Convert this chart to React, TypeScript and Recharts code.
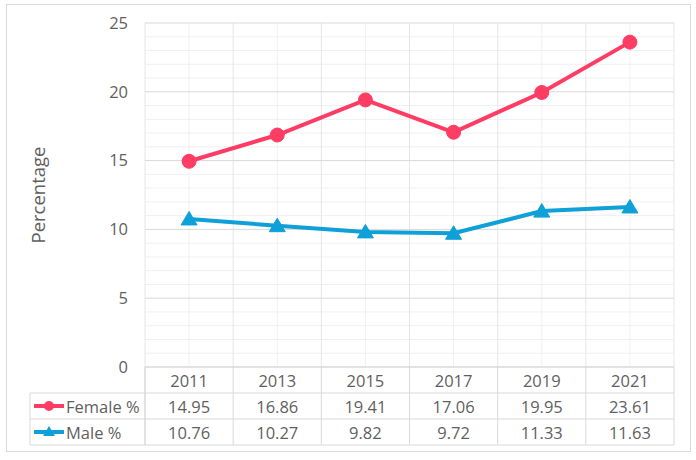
import React from 'react';
import { LineChart, Line, XAxis, YAxis, ReferenceLine } from 'recharts';

const years = [2011, 2013, 2015, 2017, 2019, 2021];
const female = [14.95, 16.86, 19.41, 17.06, 19.95, 23.61];
const male = [10.76, 10.27, 9.82, 9.72, 11.33, 11.63];
const seriesNames = ['Female %', 'Male %'];
const yTicks = [0, 5, 10, 15, 20, 25];
const yMinor = [1, 2, 3, 4, 6, 7, 8, 9, 11, 12, 13, 14, 16, 17, 18, 19, 21, 22, 23, 24];
const colEdges = [2010, 2012, 2014, 2016, 2018, 2020, 2022];
const colMids = [2011, 2013, 2015, 2017, 2019, 2021];
const yLabel = 'Percentage';

const PINK = '#FF3D64';
const BLUE = '#0FA0D8';
const TEXT = '#5f5f5f';
const MAJOR = '#d9d9d9';
const MINOR = '#f0f0f0';
const FONT = '"Open Sans", "Liberation Sans", sans-serif';
const FS = 16.5;

const data = years.map((y, i) => ({ year: y, female: female[i], male: male[i] }));

const W = 696;
const H = 460;
const PLOT_LEFT = 145;
const PLOT_RIGHT = 674;
const PLOT_TOP = 23;
const PLOT_BOTTOM = 367;
const COL_HALF = (PLOT_RIGHT - PLOT_LEFT) / years.length / 2;
const ROW_LINES = [393, 419, 445];
const ROW_TEXT = [380, 406, 432];
const TABLE_LEFT = 30;

const TableTick = (props: any) => {
  const { x, payload } = props;
  const i = years.indexOf(payload.value);
  if (i < 0) return null;
  return (
    <g>
      <text x={x} y={ROW_TEXT[0]} textAnchor="middle" dominantBaseline="central" fill={TEXT} fontSize={FS} fontFamily={FONT}>
        {payload.value}
      </text>
      <text x={x} y={ROW_TEXT[1]} textAnchor="middle" dominantBaseline="central" fill={TEXT} fontSize={FS} fontFamily={FONT}>
        {female[i].toFixed(2)}
      </text>
      <text x={x} y={ROW_TEXT[2]} textAnchor="middle" dominantBaseline="central" fill={TEXT} fontSize={FS} fontFamily={FONT}>
        {male[i].toFixed(2)}
      </text>
      <line x1={x + COL_HALF} x2={x + COL_HALF} y1={PLOT_BOTTOM} y2={ROW_LINES[2]} stroke={MAJOR} strokeWidth={1} />
      {i === 0 && (
        <line x1={x - COL_HALF} x2={x - COL_HALF} y1={PLOT_BOTTOM} y2={ROW_LINES[2]} stroke={MAJOR} strokeWidth={1} />
      )}
    </g>
  );
};

const TriangleDot = (props: any) => {
  const { cx, cy } = props;
  if (cx == null || cy == null) return null;
  return <polygon points={`${cx},${cy - 7.5} ${cx - 8},${cy + 6} ${cx + 8},${cy + 6}`} fill={BLUE} stroke={BLUE} strokeWidth={1} />;
};

const CircleDot = (props: any) => {
  const { cx, cy } = props;
  if (cx == null || cy == null) return null;
  return <circle cx={cx} cy={cy} r={7} fill={PINK} stroke={PINK} strokeWidth={1} />;
};

export default function App() {
  return (
    <div style={{ position: 'fixed', left: 0, top: 0, width: W, height: H, background: '#fff', fontFamily: FONT }}>
      <LineChart
        width={W}
        height={H}
        data={data}
        margin={{ top: PLOT_TOP, right: W - PLOT_RIGHT, left: 85, bottom: 13 }}
      >
        {yMinor.map((v) => (
          <ReferenceLine key={'ym' + v} y={v} stroke={MINOR} strokeWidth={1} />
        ))}
        {colMids.map((v) => (
          <ReferenceLine key={'xm' + v} x={v} stroke={MINOR} strokeWidth={1} />
        ))}
        {colEdges.map((v) => (
          <ReferenceLine key={'xe' + v} x={v} stroke="#e6e6e6" strokeWidth={1} />
        ))}
        {yTicks.map((v) => (
          <ReferenceLine key={'yM' + v} y={v} stroke={MAJOR} strokeWidth={1} />
        ))}
        <XAxis
          dataKey="year"
          type="number"
          domain={[2010, 2022]}
          ticks={years}
          height={80}
          axisLine={{ stroke: MAJOR }}
          tickLine={false}
          tick={<TableTick />}
          interval={0}
        />
        <YAxis
          width={60}
          domain={[0, 25]}
          ticks={yTicks}
          axisLine={false}
          tickLine={false}
          tickSize={0}
          tickMargin={17}
          tick={{ fill: TEXT, fontSize: FS, fontFamily: FONT }}
        />
        <Line
          dataKey="male"
          name={seriesNames[1]}
          stroke={BLUE}
          strokeWidth={4}
          dot={<TriangleDot />}
          isAnimationActive={false}
        />
        <Line
          dataKey="female"
          name={seriesNames[0]}
          stroke={PINK}
          strokeWidth={4}
          dot={<CircleDot />}
          isAnimationActive={false}
        />
      </LineChart>
      <svg width={W} height={H} style={{ position: 'absolute', left: 0, top: 0, pointerEvents: 'none' }}>
        <rect x={6.5} y={4.5} width={684} height={447} fill="none" stroke="#d9d9d9" strokeWidth={1} />
        <text
          x={37}
          y={(PLOT_TOP + PLOT_BOTTOM) / 2}
          transform={`rotate(-90 37 ${(PLOT_TOP + PLOT_BOTTOM) / 2})`}
          textAnchor="middle"
          dominantBaseline="central"
          fill={TEXT}
          fontSize={18.5}
          fontFamily={FONT}
        >
          {yLabel}
        </text>
        {ROW_LINES.map((y) => (
          <line key={y} x1={TABLE_LEFT} x2={PLOT_RIGHT} y1={y} y2={y} stroke={MAJOR} strokeWidth={1} />
        ))}
        <line x1={TABLE_LEFT} x2={TABLE_LEFT} y1={ROW_LINES[0]} y2={ROW_LINES[2]} stroke={MAJOR} strokeWidth={1} />
        <line x1={PLOT_LEFT} x2={PLOT_LEFT} y1={PLOT_BOTTOM} y2={ROW_LINES[2]} stroke={MAJOR} strokeWidth={1} />
        <line x1={34} x2={64} y1={ROW_TEXT[1]} y2={ROW_TEXT[1]} stroke={PINK} strokeWidth={4} />
        <circle cx={49} cy={ROW_TEXT[1]} r={5} fill={PINK} />
        <text x={66} y={ROW_TEXT[1]} dominantBaseline="central" fill={TEXT} fontSize={FS} fontFamily={FONT}>
          {seriesNames[0]}
        </text>
        <line x1={34} x2={64} y1={ROW_TEXT[2]} y2={ROW_TEXT[2]} stroke={BLUE} strokeWidth={4} />
        <polygon points={`49,${ROW_TEXT[2] - 6} 43,${ROW_TEXT[2] + 4} 55,${ROW_TEXT[2] + 4}`} fill={BLUE} />
        <text x={66} y={ROW_TEXT[2]} dominantBaseline="central" fill={TEXT} fontSize={FS} fontFamily={FONT}>
          {seriesNames[1]}
        </text>
      </svg>
    </div>
  );
}
